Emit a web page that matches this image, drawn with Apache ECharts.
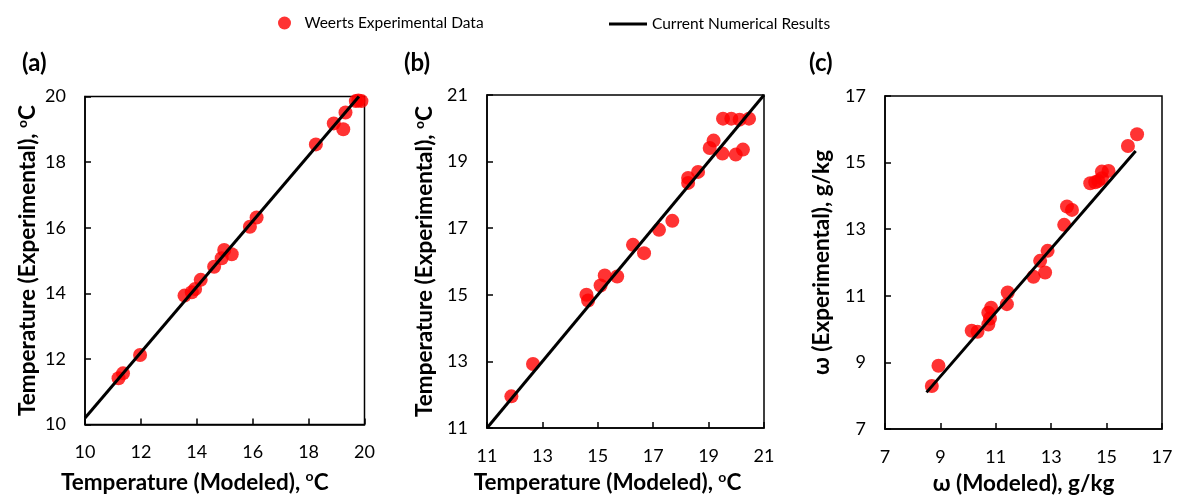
<!DOCTYPE html>
<html>
<head>
<meta charset="utf-8">
<title>Modeled vs Experimental</title>
<script src="https://cdn.jsdelivr.net/npm/echarts@6/dist/echarts.min.js"></script>
<style>
    html, body { margin: 0; padding: 0; background: #fff; }
    #chart { width: 1178px; height: 497px; }
</style>
</head>
<body>
<div id="chart"></div>
<script>
// (a) temperature, Weerts data
var aModeled      = [11.2, 11.36, 11.97, 13.56, 13.82, 13.94, 14.14, 14.62, 14.89, 14.98, 15.25, 15.9, 16.14, 18.26, 18.9, 19.24, 19.32, 19.69, 19.89, 19.78];
var aExperimental = [11.41, 11.56, 12.12, 13.93, 14.03, 14.13, 14.41, 14.81, 15.07, 15.32, 15.19, 16.03, 16.31, 18.54, 19.18, 19.0, 19.51, 19.86, 19.86, 19.88];
var aLineX = [10, 19.8];
var aLineY = [10.2, 20];

// (b) temperature
var bModeled      = [11.88, 12.66, 14.59, 14.65, 15.1, 15.25, 15.7, 16.27, 16.67, 17.21, 17.69, 18.26, 18.26, 18.62, 19.04, 19.18, 19.5, 19.52, 19.82, 20.12, 20.46, 19.98, 20.24];
var bExperimental = [11.95, 12.92, 15.0, 14.83, 15.28, 15.58, 15.55, 16.5, 16.25, 16.95, 17.22, 18.36, 18.51, 18.69, 19.41, 19.63, 19.24, 20.29, 20.29, 20.26, 20.29, 19.21, 19.36];
var bLineX = [11, 21];
var bLineY = [11, 21];

// (c) humidity ratio
var cModeled      = [8.69, 8.93, 10.13, 10.34, 10.73, 10.79, 10.73, 10.83, 11.4, 11.43, 12.36, 12.6, 12.78, 12.87, 13.47, 13.57, 13.75, 14.41, 14.59, 14.7, 14.83, 14.83, 15.07, 15.77, 16.1];
var cExperimental = [8.29, 8.9, 9.95, 9.92, 10.14, 10.32, 10.49, 10.64, 10.75, 11.1, 11.57, 12.05, 11.7, 12.35, 13.13, 13.68, 13.58, 14.38, 14.41, 14.45, 14.53, 14.73, 14.75, 15.5, 15.85];
var cLineX = [8.5, 16.05];
var cLineY = [8.1, 15.35];

// axis ranges [min, max, interval]
var aRange = [10, 20, 2];
var bRange = [11, 21, 2];
var cRange = [7, 17, 2];

var tempModeled = 'Temperature (Modeled), {sup|o}C';
var tempExperimental = 'Temperature (Experimental), {sup|o}C';
var omegaModeled = 'ω (Modeled), g/kg';
var omegaExperimental = 'ω (Experimental), g/kg';

var FONT = 'Lato, "Noto Sans", sans-serif';

function pairs(xs, ys) {
    return xs.map(function (x, i) { return [x, ys[i]]; });
}

function nameStyle(padding) {
    return {
        fontFamily: FONT,
        fontSize: 22.5,
        lineHeight: 26,
        fontWeight: 'bold',
        color: '#000',
        padding: padding,
        rich: {
            // superscript "o": small token pinned to the top of the line box
            sup: { fontFamily: FONT, fontSize: 14, lineHeight: 10, fontWeight: 'bold', color: '#000', verticalAlign: 'top' }
        }
    };
}

function makeAxis(idx, range, name, gap, padding) {
    return {
        gridIndex: idx,
        type: 'value',
        min: range[0],
        max: range[1],
        interval: range[2],
        name: name,
        nameLocation: 'middle',
        nameGap: gap,
        nameTextStyle: nameStyle(padding),
        axisLine: { show: true, onZero: false, lineStyle: { color: '#000', width: 1.5 } },
        axisTick: { show: true, inside: true, length: 6, lineStyle: { color: '#000', width: 1.5 } },
        axisLabel: { fontFamily: FONT, fontSize: 18, color: '#000', margin: 19 },
        splitLine: { show: false }
    };
}

function makeGrid(left, top, width, height) {
    return {
        left: left, top: top, width: width, height: height,
        outerBoundsMode: 'none',
        show: true, borderColor: '#000', borderWidth: 1.5
    };
}

var lineStyle = { color: '#000', width: 3 };
var dotStyle = { color: '#ff0000' };
var panelText = { fontFamily: FONT, fontSize: 24, fontWeight: 'bold', color: '#000' };

var chart = echarts.init(document.getElementById('chart'));
chart.setOption({
    animation: false,
    backgroundColor: '#fff',
    title: [
        { text: '(a)', left: 17, top: 46, textStyle: panelText },
        { text: '(b)', left: 399, top: 46, textStyle: panelText },
        { text: '(c)', left: 804, top: 46, textStyle: panelText }
    ],
    legend: [
        {
            left: 273, top: 10,
            itemWidth: 30, itemHeight: 13,
            textStyle: { fontFamily: FONT, fontSize: 15.5, color: '#000' },
            data: [{ name: 'Weerts Experimental Data', icon: 'circle', itemStyle: dotStyle }]
        },
        {
            left: 604, top: 11,
            itemWidth: 38, itemHeight: 3,
            textStyle: { fontFamily: FONT, fontSize: 15.5, color: '#000' },
            data: [{ name: 'Current Numerical Results', icon: 'rect', itemStyle: { color: '#000' } }]
        }
    ],
    grid: [
        makeGrid(85, 96.5, 279.5, 328),
        makeGrid(487, 95, 277, 333),
        makeGrid(885, 96, 277, 333)
    ],
    xAxis: [
        makeAxis(0, aRange, tempModeled, 45, [0, 60, 0, 0]),
        makeAxis(1, bRange, tempModeled, 42, [0, 36, 0, 0]),
        makeAxis(2, cRange, omegaModeled, 42, 0)
    ],
    yAxis: [
        makeAxis(0, aRange, tempExperimental, 44, 0),
        makeAxis(1, bRange, tempExperimental, 49, 0),
        makeAxis(2, cRange, omegaExperimental, 50, 0)
    ],
    series: [
        { name: 'Current Numerical Results', type: 'line', xAxisIndex: 0, yAxisIndex: 0, data: pairs(aLineX, aLineY), showSymbol: false, lineStyle: lineStyle, itemStyle: { color: '#000' } },
        { name: 'Current Numerical Results', type: 'line', xAxisIndex: 1, yAxisIndex: 1, data: pairs(bLineX, bLineY), showSymbol: false, lineStyle: lineStyle, itemStyle: { color: '#000' } },
        { name: 'Current Numerical Results', type: 'line', xAxisIndex: 2, yAxisIndex: 2, data: pairs(cLineX, cLineY), showSymbol: false, lineStyle: lineStyle, itemStyle: { color: '#000' } },
        { name: 'Weerts Experimental Data', type: 'scatter', xAxisIndex: 0, yAxisIndex: 0, data: pairs(aModeled, aExperimental), symbolSize: 14, itemStyle: dotStyle },
        { name: 'Weerts Experimental Data', type: 'scatter', xAxisIndex: 1, yAxisIndex: 1, data: pairs(bModeled, bExperimental), symbolSize: 14, itemStyle: dotStyle },
        { name: 'Weerts Experimental Data', type: 'scatter', xAxisIndex: 2, yAxisIndex: 2, data: pairs(cModeled, cExperimental), symbolSize: 14, itemStyle: dotStyle }
    ]
});
window.addEventListener('resize', chart.resize);
</script>
</body>
</html>
